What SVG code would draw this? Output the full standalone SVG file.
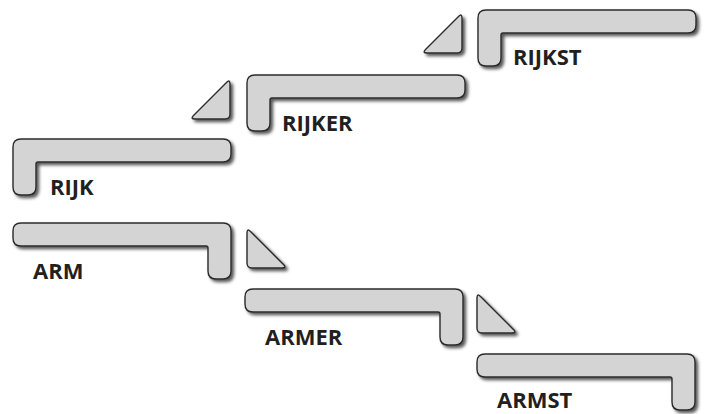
<svg xmlns="http://www.w3.org/2000/svg" xmlns:xlink="http://www.w3.org/1999/xlink" width="708" height="414" viewBox="0 0 708 414">
<style>
.shape{fill:#d4d4d4;stroke:#2b2b2b;stroke-width:1.4;filter:url(#sh)}
.lbl{font-family:"Open Sans","Liberation Sans",sans-serif;font-weight:700;font-size:22px;fill:#231f20}
</style>
<defs>
<filter id="sh" x="-10%" y="-20%" width="130%" height="150%">
<feDropShadow dx="2.5" dy="2.5" stdDeviation="1.5" flood-color="#000" flood-opacity="0.65"/>
</filter>
<path id="Lup" d="M 8,0 H 210 Q 218,0 218,8 V 15 Q 218,23 210,23 H 25 Q 23,23 23,25 V 48 Q 23,56 15,56 H 8 Q 0,56 0,48 V 8 Q 0,0 8,0 Z"/>
<path id="Ldown" d="M 8,0 H 210 Q 218,0 218,8 V 48 Q 218,56 210,56 H 203 Q 195,56 195,48 V 25 Q 195,23 193,23 H 8 Q 0,23 0,15 V 8 Q 0,0 8,0 Z"/>
<path id="Tup" d="M 5,40 Q 0,40 3.5,36.5 L 36.5,3.5 Q 40,0 40,5 V 35 Q 40,40 35,40 Z"/>
<path id="Tdown" d="M 0,5 Q 0,0 3.5,3.5 L 36.5,36.5 Q 40,40 35,40 H 5 Q 0,40 0,35 Z"/>
</defs>
<rect width="708" height="414" fill="#ffffff"/>
<g id="rijk">
<use xlink:href="#Lup" class="shape" transform="translate(13,139)"/>
<text class="lbl" x="50" y="195">RIJK</text>
</g>
<g id="rijker">
<use xlink:href="#Lup" class="shape" transform="translate(247,75)"/>
<text class="lbl" x="282" y="131">RIJKER</text>
</g>
<g id="rijkst">
<use xlink:href="#Lup" class="shape" transform="translate(478,10)"/>
<text class="lbl" x="513" y="65">RIJKST</text>
</g>
<g id="arm">
<use xlink:href="#Ldown" class="shape" transform="translate(13,223)"/>
<text class="lbl" x="33" y="279">ARM</text>
</g>
<g id="armer">
<use xlink:href="#Ldown" class="shape" transform="translate(245,289)"/>
<text class="lbl" x="265" y="345">ARMER</text>
</g>
<g id="armst">
<use xlink:href="#Ldown" class="shape" transform="translate(477,354)"/>
<text class="lbl" x="497" y="408">ARMST</text>
</g>
<g id="connectors">
<use xlink:href="#Tup" class="shape" transform="translate(190,79)"/>
<use xlink:href="#Tup" class="shape" transform="translate(422,13)"/>
<use xlink:href="#Tdown" class="shape" transform="translate(247,228)"/>
<use xlink:href="#Tdown" class="shape" transform="translate(477,293)"/>
</g>
</svg>
